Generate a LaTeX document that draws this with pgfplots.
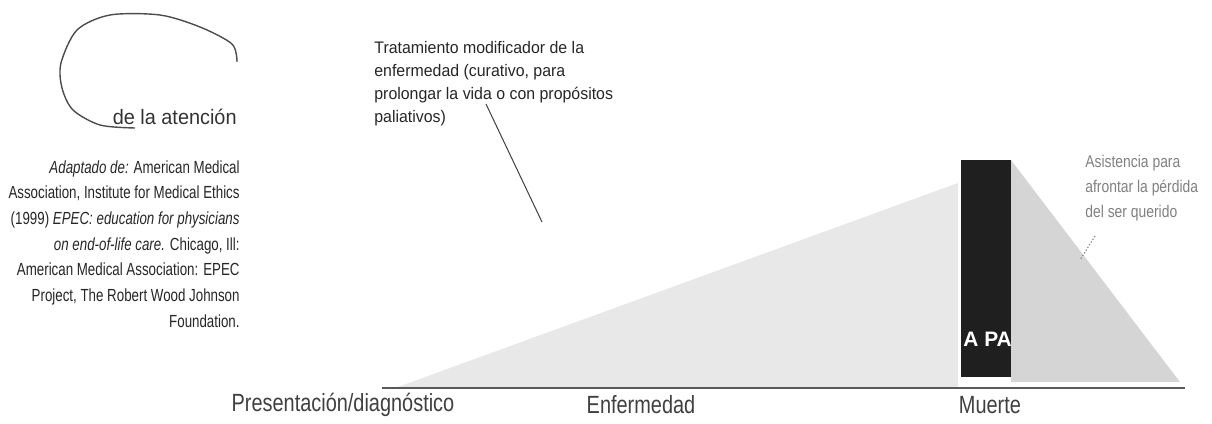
\documentclass[border=0pt]{standalone}
\usepackage{fontspec}
\setmainfont{Liberation Sans}
\newfontfamily\citefont[FakeStretch=0.76]{Liberation Sans}
\newfontfamily\notefont[FakeStretch=0.95]{Liberation Sans}
\newfontfamily\labfont[FakeStretch=0.8]{Liberation Sans}
\newfontfamily\sidefont[FakeStretch=0.82]{Liberation Sans}
\usepackage{pgfplots}
\pgfplotsset{compat=1.18}
\begin{document}
\begin{tikzpicture}
\begin{axis}[width=401.5bp,height=194bp,scale only axis,
  xmin=382,xmax=1185,ymin=0,ymax=388,
  axis lines=none,ticks=none,clip=false]
\path (axis cs:0,-31) rectangle (axis cs:1212,388);
% treatment area (rising)
\addplot[fill=gray!18,draw=none] coordinates {(395,0) (958,205)} \closedcycle;
% grief support area (falling)
\addplot[fill=gray!33,draw=none] coordinates {(1011,6) (1011,228) (1180,6)} -- cycle;
% palliative care bar
\addplot[fill=black!88,draw=none] coordinates {(961,11) (961,228) (1011,228) (1011,11)} -- cycle;
% baseline
\addplot[black!65,line width=0.6bp] coordinates {(382,0) (1185,0)};
% pointer lines
\addplot[black!75,line width=0.5bp] coordinates {(486,284) (542,166)};
\addplot[black!50,line width=0.6bp,densely dotted] coordinates {(1095,152) (1080,128)};
% partial ellipse
\addplot[smooth,black!70,line width=0.7bp] coordinates {(237,326) (232,344) (200,361) (160,373) (110,373) (77,358) (61,325) (62,300) (73,278) (100,263) (135,260)};
\node[white,font=\bfseries\fontsize{10.5}{10.5}\selectfont,anchor=west,inner sep=0pt] at (axis cs:963,49) {A PA};
\node[anchor=east,inner sep=0pt,font=\notefont\fontsize{10.5}{12}\selectfont,text=black!80] at (axis cs:237,271) {de la atención};
\node[anchor=north west,inner sep=0pt,align=left,font=\notefont\fontsize{8.4}{11.5}\selectfont,text=black!85] at (axis cs:374,347) {Tratamiento modificador de la\\enfermedad (curativo, para\\prolongar la vida o con propósitos\\paliativos)};
\node[anchor=east,inner sep=0pt,align=right,font=\citefont\fontsize{8.8}{12.9}\selectfont,text=black!85] at (axis cs:240,144) {\textit{Adaptado de:} American Medical\\Association, Institute for Medical Ethics\\(1999) \textit{EPEC: education for physicians}\\\textit{on end-of-life care.} Chicago, Ill:\\American Medical Association: EPEC\\Project, The Robert Wood Johnson\\Foundation.};
\node[anchor=north west,inner sep=0pt,align=left,font=\sidefont\fontsize{8.5}{12.5}\selectfont,text=black!50] at (axis cs:1085,233) {Asistencia para\\afrontar la pérdida\\del ser querido};
\node[font=\labfont\fontsize{12.5}{14}\selectfont,text=black!75] at (axis cs:343,-17) {Presentación/diagnóstico};
\node[font=\labfont\fontsize{12.5}{14}\selectfont,text=black!75] at (axis cs:641,-17) {Enfermedad};
\node[font=\labfont\fontsize{12.5}{14}\selectfont,text=black!75] at (axis cs:990,-17) {Muerte};
\end{axis}
\end{tikzpicture}
\end{document}
